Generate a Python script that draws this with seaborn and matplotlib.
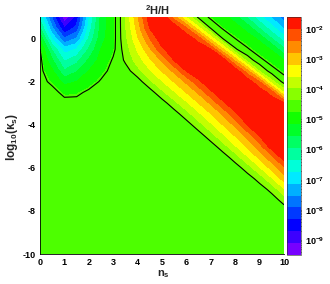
import numpy as np
import matplotlib
matplotlib.use("Agg")
import matplotlib.pyplot as plt
from matplotlib.ticker import MultipleLocator, FixedLocator
import seaborn as sns

# scan grid: spectral index n_s (columns) and log10(kappa_s) (rows)
ns = [0, 0.5, 1, 1.5, 2, 2.5, 3, 3.25, 3.5, 4, 4.5, 5, 5.5, 6, 6.5, 7, 7.5, 8, 8.5, 9, 9.5, 10]
log_kappa = [1, 0.5, 0, -0.5, -1, -1.5, -2, -2.5, -3, -3.5, -4, -4.5,
             -5, -5.5, -6, -6.5, -7, -7.5, -8, -8.5, -9, -9.5, -10]

bg = -4.6  # log10(2H/H) far from the features
log_dh = [
    [-6.5, -7.97, -9.45, -8.59, -6.8, -5.45, -4.85, -4.5, -3.96, -2.84, -1.75, -1.68, -2.61, -3.66, -4.5, -4.79, -4.98, -5.4, -6.0, -6.6, -7.2, -7.75],
    [-5.9, -7.5, -8.75, -8.2, -6.6, -5.4, -4.85, -4.5, -4.0, -3.0, -1.97, -1.7, -1.68, -2.4, -3.5, -4.46, -4.77, -4.95, -5.35, -6.0, -6.6, -7.2],
    [-5.2, -6.8, -7.9, -7.5, -6.3, -5.3, -4.85, -4.5, -4.08, -3.24, -2.4, -1.72, -1.68, -1.7, -2.18, -3.33, -4.42, -4.72, -4.92, -5.25, -5.95, -6.55],
    [-4.7, -6.0, -6.95, -6.7, -5.9, -5.15, -4.8, -4.55, -4.18, -3.52, -2.86, -2.08, -1.72, -1.68, -1.68, -1.97, -3.13, -4.35, -4.68, -4.9, -5.2, -5.85],
    [bg, -5.5, -6.4, -6.1, -5.5, -5.0, -4.68, bg, -4.31, -3.78, -3.25, -2.72, -1.97, -1.7, -1.68, -1.68, -1.75, -2.91, -4.19, -4.64, -4.86, -5.15],
    [bg, -5.1, -5.9, -5.6, -5.15, -4.85, bg, bg, bg, -4.11, -3.63, -3.16, -2.69, -1.97, -1.72, -1.68, -1.68, -1.72, -2.67, -4.04, bg, -4.82],
    [bg, -4.8, -5.3, -5.15, -4.9, -4.68, bg, bg, bg, bg, -4.06, -3.61, -3.16, -2.71, -2.08, -1.7, -1.68, -1.68, -1.72, -2.4, -3.85, -4.56],
    [bg, bg, -4.82, -4.8, -4.65, bg, bg, bg, bg, bg, bg, -4.08, -3.63, -3.17, -2.72, -2.08, -1.7, -1.68, -1.68, -1.72, -2.18, -3.63],
    [bg] * 12 + [-4.12, -3.66, -3.19, -2.73, -2.08, -1.7, -1.68, -1.68, -1.7, -1.97],
    [bg] * 13 + [-4.14, -3.67, -3.2, -2.73, -2.08, -1.7, -1.68, -1.68, -1.68],
    [bg] * 14 + [-4.14, -3.66, -3.17, -2.69, -1.97, -1.7, -1.68, -1.68],
    [bg] * 15 + [-4.15, -3.65, -3.15, -2.65, -1.97, -1.7, -1.68],
    [bg] * 16 + [-4.16, -3.62, -3.09, -2.56, -1.75, -1.68],
    [bg] * 17 + [-4.18, -3.62, -3.07, -2.51, -1.75],
    [bg] * 18 + [-4.2, -3.62, -3.04, -2.46],
    [bg] * 19 + [-4.24, -3.63, -3.0],
    [bg] * 20 + [-4.27, -3.63],
    [bg] * 21 + [-4.25],
    [bg] * 22,
    [bg] * 22,
    [bg] * 22,
    [bg] * 22,
    [bg] * 22,
]

# observational bounds drawn as black lines
bound_levels = [-4.72, -4.4]
z_min, z_max = -9.5, -1.6
cbar_decades = [-9, -8, -7, -6, -5, -4, -3, -2]

sns.set_theme(style="white")
plt.rcParams['font.family'] = ['Liberation Sans', 'DejaVu Sans']
plt.rcParams['font.weight'] = 'bold'
plt.rcParams['mathtext.fontset'] = 'custom'
plt.rcParams['mathtext.rm'] = 'Liberation Sans:bold'
plt.rcParams['mathtext.bf'] = 'Liberation Sans:bold'
plt.rcParams['mathtext.it'] = 'Liberation Sans:bold'
plt.rcParams['axes.unicode_minus'] = False

Z = np.array(log_dh)
levels = np.linspace(z_min, z_max, 21)
band_colors = sns.hls_palette(26, h=5 / 360, l=0.5, s=1)[:20][::-1]

fig = plt.figure(figsize=(3.3, 2.84), dpi=100)
ax = fig.add_axes([40 / 330, 30 / 284, 244 / 330, 237 / 284])
cf = ax.contourf(ns, log_kappa, Z, levels=levels, colors=band_colors)
ax.contour(ns, log_kappa, Z, levels=bound_levels, colors='black',
           linewidths=0.8, linestyles='solid')

ax.set_xlim(0, 10)
ax.set_ylim(-10, 1)
ax.xaxis.set_major_locator(MultipleLocator(1))
ax.xaxis.set_minor_locator(MultipleLocator(0.25))
ax.yaxis.set_major_locator(MultipleLocator(2))
ax.yaxis.set_minor_locator(MultipleLocator(0.5))
ax.tick_params(which='both', direction='in', colors='black', labelsize=6.5, width=0.6)
ax.tick_params(axis='x', which='major', length=3.5, pad=3)
ax.tick_params(axis='x', which='minor', length=1.8)
ax.tick_params(axis='y', which='major', length=6, pad=3)
ax.tick_params(axis='y', which='minor', length=3.5)
for side in ['top', 'right']:
    ax.spines[side].set_visible(False)
for side in ['left', 'bottom']:
    ax.spines[side].set_color('black')
    ax.spines[side].set_linewidth(0.6)

cax = fig.add_axes([287 / 330, 29 / 284, 14 / 330, 238 / 284])
cb = fig.colorbar(cf, cax=cax, ticks=cbar_decades)
cb.set_ticklabels([r'$\mathbf{10^{%d}}$' % k for k in cbar_decades])
cb.outline.set_linewidth(0.4)
minor = [np.log10(m) + k for k in range(-10, -1) for m in range(2, 10)]
cax.yaxis.set_minor_locator(FixedLocator([t for t in minor if z_min < t < z_max]))
cax.tick_params(which='both', direction='in', colors='black', labelsize=6.5, width=0.5, pad=3)
cax.tick_params(which='major', length=4)
cax.tick_params(which='minor', length=2.5)

fig.text(158 / 330, 1 - 10 / 284, r'$\mathbf{{}^{2}H/H}$', ha='center', va='center', fontsize=8)
fig.text(163 / 330, 1 - 274 / 284, r'$\mathbf{n_{s}}$', ha='center', va='center', fontsize=8)
fig.text(12 / 330, 1 - 137 / 284, r'$\mathbf{log_{10}(\kappa_{s})}$', ha='center', va='center',
         fontsize=8.5, rotation=90)

fig.savefig('out.png', dpi=100)
